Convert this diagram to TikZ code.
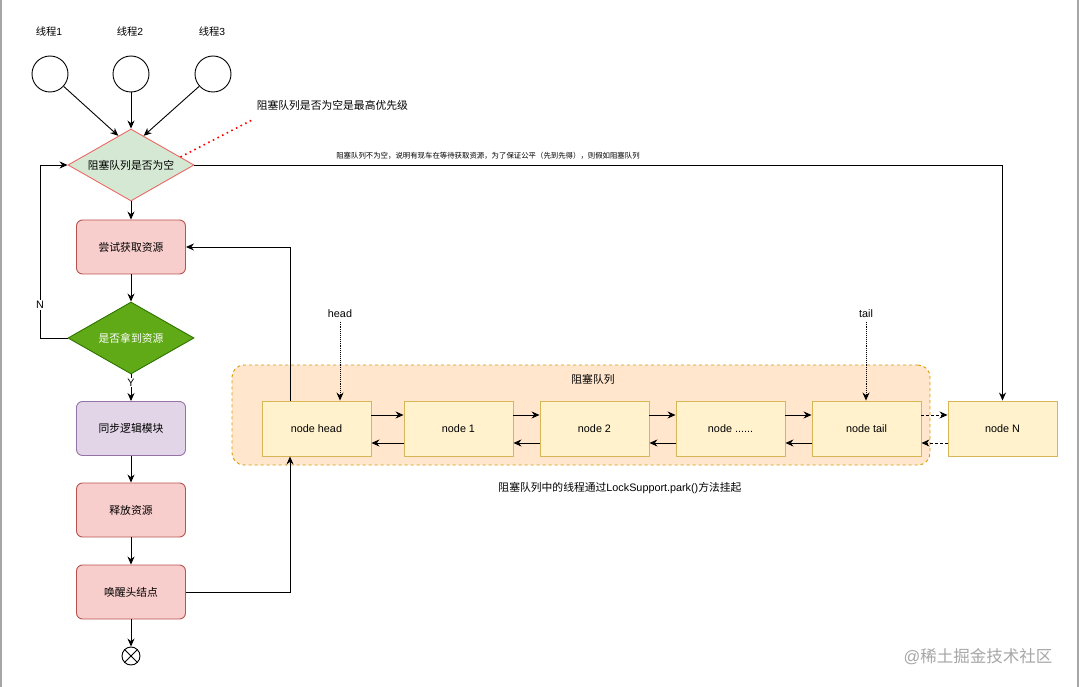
\documentclass[tikz,border=0pt]{standalone}
\usepackage{fontspec}
\setmainfont{Liberation Sans}
\newfontfamily\cjk{Noto Sans CJK SC}
\usetikzlibrary{calc,arrows.meta,shapes.geometric,positioning}
\definecolor{redfill}{HTML}{F8CECC}
\definecolor{redline}{HTML}{B85450}
\definecolor{greenfill}{HTML}{D5E8D4}
\definecolor{pinkline}{HTML}{EA6B66}
\definecolor{darkgreen}{HTML}{60A917}
\definecolor{darkgreenline}{HTML}{2D7600}
\definecolor{purplefill}{HTML}{E1D5E7}
\definecolor{purpleline}{HTML}{9673A6}
\definecolor{queuefill}{HTML}{FFE6CC}
\definecolor{queueline}{HTML}{D79B00}
\definecolor{nodefill}{HTML}{FFF2CC}
\definecolor{nodeline}{HTML}{D6B656}

\begin{document}
\begin{tikzpicture}[x=1pt,y=-1pt,line width=0.9pt,>={Stealth[length=8pt,width=7pt]},
  every node/.style={font=\fontsize{10.8}{13}\selectfont},
  thread/.style={circle,draw,minimum size=36,inner sep=0},
  decide/.style={diamond,aspect=1.75,minimum width=126,minimum height=72,inner sep=0},
  stepbox/.style={rectangle,rounded corners=6,minimum width=109,minimum height=54},
  qnode/.style={rectangle,draw=nodeline,fill=nodefill,minimum width=109,minimum height=55}]
  \useasboundingbox (0,0) rectangle (1080,687);
  \draw[gray!70,line width=1.5] (1,0)--(1,687) (1078,0)--(1078,687);
  % threads
  \foreach \i/\x in {1/50,2/131,3/213}{
    \node[thread] (t\i) at (\x,74) {};
    \node[font=\fontsize{10.3}{12}\selectfont] (tl\i) at (\x-1,32) {{\cjk 线程}\i};
  }
  % flow on the left
  \node[decide,draw=pinkline,fill=greenfill] (empty) at (131,165) {\cjk 阻塞队列是否为空};
  \node[stepbox,draw=redline,fill=redfill] (try) at (131,247) {\cjk 尝试获取资源};
  \node[decide,draw=darkgreenline,fill=darkgreen,text=white] (got) at (131,338) {\cjk 是否拿到资源};
  \node[stepbox,draw=purpleline,fill=purplefill] (sync) at (131,428.5) {\cjk 同步逻辑模块};
  \node[stepbox,draw=redline,fill=redfill] (free) at (131,510) {\cjk 释放资源};
  \node[stepbox,draw=redline,fill=redfill] (wake) at (131,592) {\cjk 唤醒头结点};
  \node[circle,draw,minimum size=18,inner sep=0] (stop) at (131,656) {};
  \draw (stop.45)--(stop.225) (stop.135)--(stop.315);

  \draw[->] (t1) -- ($(empty.north)!0.2!(empty.west)$);
  \draw[->] (t2) -- (empty.north);
  \draw[->] (t3) -- ($(empty.north)!0.2!(empty.east)$);
  \draw[->] (empty) -- (try);
  \draw[->] (try) -- (got);
  \draw[->] (got) -- node[fill=white,inner sep=1,pos=0.3]{Y} (sync);
  \draw[->] (sync) -- (free);
  \draw[->] (free) -- (wake);
  \draw[->] (wake) -- (stop);
  \coordinate (nloop) at (40,338);
  \draw[->] (got.west) -- (nloop) -- node[fill=white,inner sep=1,pos=0.19]{N} (nloop |- empty.west) -- (empty.west);

  % note
  \node[anchor=west] (note) at (253,105) {\cjk 阻塞队列是否为空是最高优先级};
  \coordinate (noteend) at (252,120);
  \draw[red,line width=1.6,dash pattern=on 1.6pt off 3.6pt] ($(empty.north)!0.78!(empty.east)$) -- (noteend);

  % blocking queue
  \node[draw=queueline,fill=queuefill,dashed,rounded corners=12,minimum width=698,minimum height=100] (queue) at (581,415) {};
  \node (queuelbl) at (593,379) {\cjk 阻塞队列};
  \node[qnode] (nhead) at (316.5,428.5) {node head};
  \node[qnode] (n1) at (458.5,428.5) {node 1};
  \node[qnode] (n2) at (594.5,428.5) {node 2};
  \node[qnode] (n3) at (730.5,428.5) {node ......};
  \node[qnode] (ntail) at (866.5,428.5) {node tail};
  \node[qnode] (nN) at (1002.5,428.5) {node N};
  \foreach \a/\b in {nhead/n1,n1/n2,n2/n3,n3/ntail}{
    \draw[->] ([yshift=13.5]\a.east) -- ([yshift=13.5]\b.west);
    \draw[->] ([yshift=-14.5]\b.west) -- ([yshift=-14.5]\a.east);
  }
  \draw[->,densely dashed] ([yshift=13.5]ntail.east) -- ([yshift=13.5]nN.west);
  \draw[->,densely dashed] ([yshift=-14.5]nN.west) -- ([yshift=-14.5]ntail.east);
  \node (headlbl) at (340,314) {head};
  \node (taillbl) at (866,314) {tail};
  \draw[->,densely dotted] (headlbl.south) -- (headlbl.south |- nhead.north);
  \draw[->,densely dotted] (taillbl.south) -- (taillbl.south |- ntail.north);
  \node (parklbl) at (620,488) {{\cjk 阻塞队列中的线程通过}LockSupport.park(){\cjk 方法挂起}};

  % connectors to the queue
  \node[font=\fontsize{7.4}{9}\selectfont] (fairlbl) at (488,156) {\cjk 阻塞队列不为空，说明有现车在等待获取资源，为了保证公平（先到先得），则假如阻塞队列};
  \draw[->] (empty.east) -| (nN.north);
  \draw[->] (wake.east) -| ([xshift=-26.5]nhead.south);
  \draw[->] ([xshift=-26.5]nhead.north) |- (try.east);

  % watermark
  \node[text=gray!70,font=\fontsize{16.5}{18}\selectfont] (mark) at (978,657) {@{\cjk 稀土掘金技术社区}};
\end{tikzpicture}
\end{document}
